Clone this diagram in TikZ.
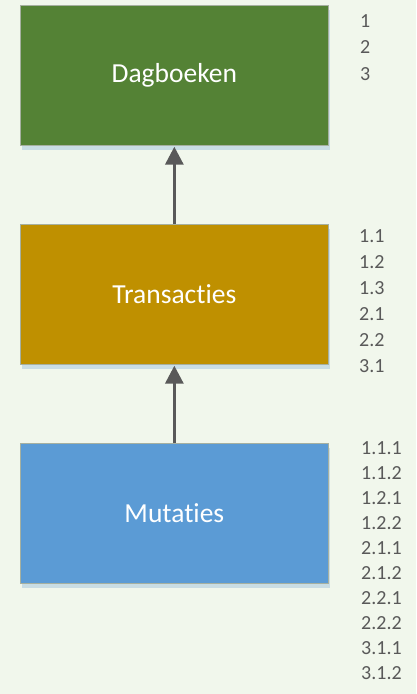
\documentclass[tikz,border=0pt]{standalone}
\usepackage{fontspec}
\setmainfont{Carlito}[Ligatures=NoCommon]
\usetikzlibrary{arrows.meta,shadows}
\definecolor{bg}{HTML}{F1F7EC}
\definecolor{dgreen}{HTML}{548235}
\definecolor{dgold}{HTML}{BF9000}
\definecolor{dblue}{HTML}{5B9BD5}
\definecolor{stripc}{HTML}{C9DDE4}
\definecolor{edgec}{HTML}{A6B0A0}
\definecolor{txtgray}{HTML}{595959}
\begin{document}
\begin{tikzpicture}[x=1pt,y=-1pt,
  box/.style={draw=edgec, line width=0.7pt, minimum width=308pt, minimum height=140pt,
    inner sep=0pt, anchor=north west, text=white, font=\fontsize{27.5}{31}\selectfont,
    drop shadow={shadow xshift=2pt, shadow yshift=-5pt, fill=stripc, opacity=1, draw=none}},
  conn/.style={draw=txtgray, line width=3.2pt, -{Triangle[length=18pt,width=18pt]}},
  num/.style={anchor=base west, inner sep=0pt, text=txtgray, font=\fontsize{20}{23}\selectfont}]
\fill[bg] (0,0) rectangle (416,694);
\useasboundingbox (0,0) rectangle (416,694);

\node[box, fill=dgreen] (dag) at (20,5) {Dagboeken};
\node[box, fill=dgold] (tra) at (20,224) {Transacties};
\node[box, fill=dblue] (mut) at (20,443) {Mutaties};

\draw[conn] (tra.north) -- ([yshift=-1pt]dag.south);
\draw[conn] (mut.north) -- ([yshift=-1pt]tra.south);

\foreach \t [count=\i] in {1,2,3}
  \node[num] (d\i) at (360, 27.3+26.5*\i-26.5) {\t};
\foreach \t [count=\i] in {1.1,1.2,1.3,2.1,2.2,3.1}
  \node[num] (t\i) at (359, 242.7+26*\i-26) {\t};
\foreach \t [count=\i] in {1.1.1,1.1.2,1.2.1,1.2.2,2.1.1,2.1.2,2.2.1,2.2.2,3.1.1,3.1.2}
  \node[num] (m\i) at (361, 454+25.1*\i-25.1) {\t};
\end{tikzpicture}
\end{document}
